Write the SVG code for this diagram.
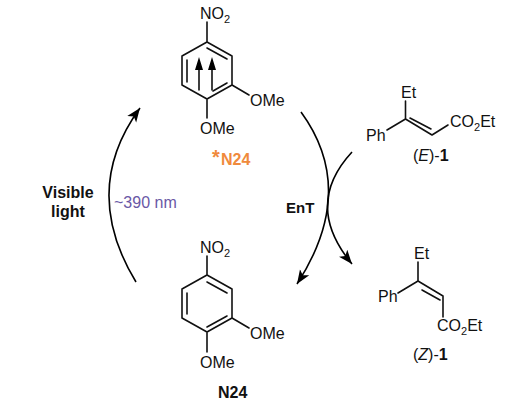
<svg xmlns="http://www.w3.org/2000/svg" width="513" height="414" viewBox="0 0 513 414">
<defs>
<marker id="head" markerUnits="userSpaceOnUse" markerWidth="16" markerHeight="12" refX="14" refY="6" orient="auto"><path d="M0,0.5 L14,6 L0,11.5 L3.5,6 Z" fill="#000"/></marker>
</defs>
<style>
text{font-family:"Liberation Sans",Arial,sans-serif;font-size:16px;fill:#111}
.b{font-weight:bold;font-size:15px}
.n{font-weight:bold;font-size:16px}
.bond{fill:none;stroke:#111;stroke-width:1.6;stroke-linecap:round;stroke-linejoin:round}
.arc{fill:none;stroke:#000;stroke-width:1.6;marker-end:url(#head)}
.s{font-size:11px}
</style>
<rect width="513" height="414" fill="#fff"/>
<g id="connectors">
<path class="arc" d="M301,112 Q358,190 297,284"/>
<path class="arc" d="M352,152 Q303,205 352,264"/>
<path class="arc" d="M136,282 Q80,190 140,108"/>
</g>
<g id="excited-N24">
<path class="bond" d="M207,22 V42 L232,56 V85 L207,99 L182,85 V56 L207,42 M207,99 V118 M232,85 L249,95"/>
<path class="bond" d="M207,48 L227,59 M227,83 L213,91 M187,60 V82"/>
<path class="bond" d="M199,90 V62 M212,90 V62"/>
<path d="M199,57 L195,70 H203 Z M212,57 L208,70 H216 Z" fill="#000"/>
<text x="200" y="19">NO<tspan class="s" dy="4">2</tspan></text>
<text x="250" y="106">OMe</text>
<text x="200" y="134">OMe</text>
<text x="212" y="165" class="n" style="fill:#f08a3c"><tspan dy="-1" style="font-size:20px">*</tspan><tspan dy="1" x="221">N24</tspan></text>
</g>
<g id="N24">
<path class="bond" d="M207,256 V275 L232,289 V318 L207,332 L182,318 V289 L207,275 M207,332 V352 M232,318 L249,328"/>
<path class="bond" d="M207,282 L227,293 M227,316 L207,327 M187,293 V314"/>
<text x="200" y="253">NO<tspan class="s" dy="4">2</tspan></text>
<text x="250" y="339">OMe</text>
<text x="200" y="368">OMe</text>
<text x="218" y="398" class="n">N24</text>
</g>
<g id="E-1">
<path class="bond" d="M405.500,101 V119 L432,135 L448,125 M405.500,119 L387,130 M410,118 L431,129"/>
<text x="401" y="98">Et</text>
<text x="366" y="141">Ph</text>
<text x="450" y="127">CO<tspan class="s" dy="4">2</tspan><tspan dy="-4">Et</tspan></text>
<text x="413" y="161">(<tspan font-style="italic">E</tspan>)-<tspan style="font-weight:bold">1</tspan></text>
</g>
<g id="Z-1">
<path class="bond" d="M418,262 V281 L443,296 V317 M418,281 L398,293 M422,290 L440,300"/>
<text x="414" y="259">Et</text>
<text x="378" y="302">Ph</text>
<text x="437" y="331">CO<tspan class="s" dy="4">2</tspan><tspan dy="-4">Et</tspan></text>
<text x="413" y="360">(<tspan font-style="italic">Z</tspan>)-<tspan style="font-weight:bold">1</tspan></text>
</g>
<g id="labels">
<text x="68" y="198" text-anchor="middle" class="n">Visible</text>
<text x="68" y="217" text-anchor="middle" class="n">light</text>
<text x="114" y="208" style="fill:#6a58a6">~390 nm</text>
<text x="286" y="213" class="b">EnT</text>
</g>
</svg>
